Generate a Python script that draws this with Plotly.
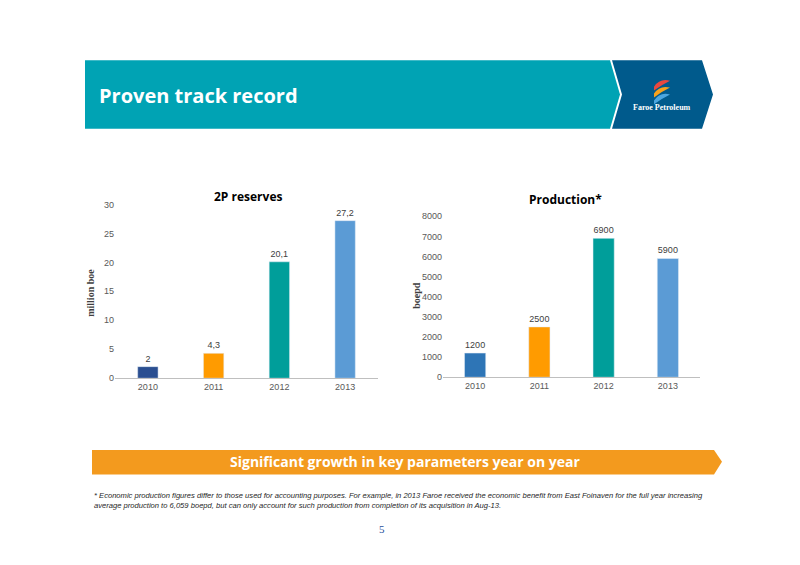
import plotly.graph_objects as go

## 데이터
years = ["2010", "2011", "2012", "2013"]
reserves = [2, 4.3, 20.1, 27.2]
reserves_labels = ["2", "4,3", "20,1", "27,2"]
production = [1200, 2500, 6900, 5900]
production_labels = ["1200", "2500", "6900", "5900"]
colors_left = ["#2B4F91", "#FF9B00", "#009E9A", "#5B9BD5"]
colors_right = ["#2E75B6", "#FF9B00", "#009E9A", "#5B9BD5"]

## 페이지 여백(8px) 고려
W, H = 784, 549
def px_x(x): return (x - 8) / W
def px_y(y): return 1 - (y - 5) / H

fig = go.Figure()
fig.add_trace(go.Bar(x=years, y=reserves, marker_color=colors_left, width=0.31,
                     text=reserves_labels, textposition="outside", cliponaxis=False,
                     textfont=dict(size=9, color="#404040", family="Liberation Sans"),
                     xaxis="x", yaxis="y"))
fig.add_trace(go.Bar(x=years, y=production, marker_color=colors_right, width=0.33,
                     text=production_labels, textposition="outside", cliponaxis=False,
                     textfont=dict(size=9, color="#404040", family="Liberation Sans"),
                     xaxis="x2", yaxis="y2"))

ax_common = dict(showgrid=False, tickfont=dict(size=9, color="#595959", family="Liberation Sans"),
                 fixedrange=True)
fig.update_layout(
    width=W, height=H, margin=dict(l=0, r=0, t=0, b=0),
    paper_bgcolor="white", plot_bgcolor="white", showlegend=False,
    xaxis=dict(domain=[px_x(115), px_x(378)], anchor="y", showline=True, linecolor="#BFBFBF",
               ticks="", **ax_common),
    yaxis=dict(domain=[px_y(377), px_y(200)], range=[0, 30], dtick=5, anchor="x",
               showline=False, zeroline=False, **ax_common),
    xaxis2=dict(domain=[px_x(443), px_x(700)], anchor="y2", showline=True, linecolor="#BFBFBF",
                ticks="", **ax_common),
    yaxis2=dict(domain=[px_y(376), px_y(212)], range=[0, 8000], dtick=1000, anchor="x2",
                showline=False, zeroline=False, **ax_common),
)

## 헤더 배너
fig.add_shape(type="path", xref="paper", yref="paper", line_width=0, fillcolor="#00A3B4",
              path=f"M {px_x(85)},{px_y(53)} L {px_x(610)},{px_y(53)} L {px_x(620)},{px_y(88)} "
                   f"L {px_x(610)},{px_y(123)} L {px_x(85)},{px_y(123)} Z")
fig.add_shape(type="path", xref="paper", yref="paper", line_width=0, fillcolor="#005A8C",
              path=f"M {px_x(612)},{px_y(53)} L {px_x(702)},{px_y(53)} L {px_x(713)},{px_y(88)} "
                   f"L {px_x(702)},{px_y(123)} L {px_x(612)},{px_y(123)} L {px_x(622)},{px_y(88)} Z")
## 로고 (간단한 불꽃 모양)
for dy, c in [(0, "#E8483F"), (7, "#F7A21B"), (14, "#4BA6DF")]:
    fig.add_shape(type="path", xref="paper", yref="paper", line_width=0, fillcolor=c,
                  path=f"M {px_x(654)},{px_y(80+dy)} Q {px_x(660)},{px_y(71+dy)} {px_x(670)},{px_y(74+dy)} "
                       f"Q {px_x(662)},{px_y(78+dy)} {px_x(654)},{px_y(84+dy)} Z")

## 하단 주황 배너
fig.add_shape(type="path", xref="paper", yref="paper", line_width=0, fillcolor="#F39A1E",
              path=f"M {px_x(92)},{px_y(450)} L {px_x(714)},{px_y(450)} L {px_x(722)},{px_y(462)} "
                   f"L {px_x(714)},{px_y(475)} L {px_x(92)},{px_y(475)} Z")

def txt(x, y, s, size, color, family="Liberation Sans", bold=False, xanchor="center", angle=0):
    fig.add_annotation(x=px_x(x), y=px_y(y), xref="paper", yref="paper", text=f"<b>{s}</b>" if bold else s,
                       showarrow=False, xanchor=xanchor, yanchor="middle", textangle=angle,
                       font=dict(size=size, color=color, family=family))

txt(97, 89, "Proven track record", 20, "white", "Open Sans", True, "left")
txt(662, 101, "Faroe Petroleum", 8, "white", "Liberation Serif", True)
txt(248, 192, "2P reserves", 12, "black", "Open Sans", True)
txt(565, 195, "Production*", 12, "black", "Open Sans", True)
txt(91, 290, "million boe", 10, "#404040", "Liberation Serif", True, angle=-90)
txt(417, 292, "boepd", 10, "#404040", "Liberation Serif", True, angle=-90)
txt(405, 462, "Significant growth in key parameters year on year", 14, "white", "Open Sans", True)
fig.add_annotation(x=px_x(92), y=px_y(502), xref="paper", yref="paper", showarrow=False,
                   xanchor="left", yanchor="middle", align="left",
                   text="<i>* Economic production figures differ to those used for accounting purposes. For example, in 2013 Faroe received the economic benefit from East Foinaven for the full year increasing<br>average production to 6,059 boepd, but can only account for such production from completion of its acquisition in Aug-13.</i>",
                   font=dict(size=7.6, color="#262626", family="Liberation Sans"))
txt(382, 531, "5", 11, "#1F4E99", "Liberation Serif")

fig.write_html("out.html")
